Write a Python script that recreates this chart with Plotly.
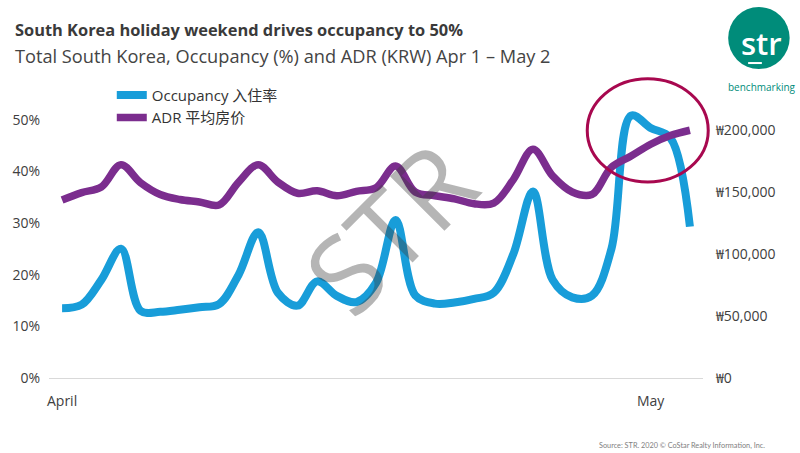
import pandas as pd
import plotly.graph_objects as go

# Daily series, Apr 1 – May 3
dates = pd.date_range("2020-04-01", "2020-05-03", freq="D")

occupancy_pct = [13.5, 14.2, 19.0, 25.0, 13.0, 12.8, 13.2, 13.7, 14.3, 20.0,
                 28.2, 16.5, 14.0, 18.7, 15.9, 14.7, 18.4, 30.6, 16.0, 14.4,
                 14.6, 15.3, 16.5, 24.0, 36.1, 19.0, 15.6, 15.9, 25.0, 50.8,
                 48.4, 46.5, 29.3]

adr_krw = [143500, 149500, 154000, 172000, 157500, 148000, 144000, 142000,
           139500, 158000, 172000, 158000, 149000, 151000, 147000, 150500,
           153500, 171000, 150000, 147000, 144500, 140500, 141000, 160000,
           184500, 163000, 150000, 148000, 170000, 179000, 188500, 195500,
           199800]

occ_ticks = [0, 0.1, 0.2, 0.3, 0.4, 0.5]
adr_ticks = [0, 50000, 100000, 150000, 200000]
adr_labels = ["₩0", "₩50,000", "₩100,000", "₩150,000", "₩200,000"]
month_ticks = [pd.Timestamp("2020-04-01"), pd.Timestamp("2020-05-01")]
month_labels = ["April", "May"]

BLUE = "#189DD9"
PURPLE = "#7B2D8E"
TEAL = "#008C7A"
FONT = "Open Sans, Noto Sans CJK SC, DejaVu Sans, sans-serif"

fig = go.Figure()
fig.add_trace(go.Scatter(
    x=dates, y=[v / 100 for v in occupancy_pct], name="Occupancy 入住率",
    mode="lines", line=dict(color=BLUE, width=8, shape="spline", smoothing=1),
    yaxis="y"))
fig.add_trace(go.Scatter(
    x=dates, y=adr_krw, name="ADR 平均房价",
    mode="lines", line=dict(color=PURPLE, width=7.5, shape="spline", smoothing=1),
    yaxis="y2"))

pad = pd.Timedelta(hours=16)
fig.update_layout(
    width=800, height=453,
    margin=dict(l=43, r=97, t=68, b=75),
    paper_bgcolor="white", plot_bgcolor="white",
    font=dict(family=FONT, color="#404040"),
    showlegend=True,
    legend=dict(x=0.096, y=0.965, xanchor="left", yanchor="top",
                font=dict(size=15, color="#333333"), itemwidth=30,
                bgcolor="rgba(0,0,0,0)", tracegroupgap=0),
    xaxis=dict(type="date", range=[dates[0] - pad, dates[-1] + pad],
               tickvals=month_ticks, ticktext=month_labels,
               showgrid=False, zeroline=False, showline=True,
               linecolor="#d9d9d9", linewidth=1, ticks="",
               tickfont=dict(size=14, color="#404040"), ticklabelstandoff=10),
    yaxis=dict(range=[0, 0.6], tickvals=occ_ticks, tickformat=".0%",
               showgrid=False, zeroline=False, showline=False, ticks="",
               tickfont=dict(size=14, color="#404040"), ticklabelstandoff=8),
    yaxis2=dict(range=[0, 250000], tickvals=adr_ticks, ticktext=adr_labels,
                overlaying="y", side="right",
                showgrid=False, zeroline=False, showline=False, ticks="",
                tickfont=dict(size=14, color="#404040"), ticklabelstandoff=12),
)

# Hand-drawn style highlight around the holiday peak
fig.add_shape(type="circle", xref="paper", yref="paper",
              x0=0.823, x1=1.008, y0=0.632, y1=0.965,
              line=dict(color="#A8084F", width=3))

# Logo
fig.add_shape(type="circle", xref="paper", yref="paper",
              x0=1.0385, x1=1.1325, y0=0.9968, y1=1.1968,
              fillcolor=TEAL, line=dict(width=0))
fig.add_shape(type="line", xref="paper", yref="paper",
              x0=1.069, x1=1.090, y0=1.016, y1=1.016,
              line=dict(color="white", width=2))

annotations = [
    dict(text="<b>South Korea holiday weekend drives occupancy to 50%</b>",
         x=-0.0546, y=1.1226, font=dict(size=16.4, color="#3a3a3a")),
    dict(text="Total South Korea, Occupancy (%) and ADR (KRW) Apr 1 – May 2",
         x=-0.0546, y=1.0387, font=dict(size=18.2, color="#444444")),
    dict(text="str", x=1.089, y=1.081, xanchor="center",
         font=dict(size=31, color="white", weight=600)),
    dict(text="benchmarking", x=1.090, y=0.938, xanchor="center",
         font=dict(size=10, color=TEAL)),
    dict(text="Source: STR. 2020 © CoStar Realty Information, Inc.",
         x=1.0977, y=-0.219, xanchor="right",
         font=dict(size=7.3, color="#808080", family="Lato, sans-serif")),
    dict(text="STR", x=0.52, y=0.484, xanchor="center", textangle=-45,
         font=dict(size=108, color="rgba(60,60,60,0.38)")),
]
for a in annotations:
    a.setdefault("xanchor", "left")
    fig.add_annotation(xref="paper", yref="paper", yanchor="middle",
                       showarrow=False, **a)

fig.write_html("out.html")
